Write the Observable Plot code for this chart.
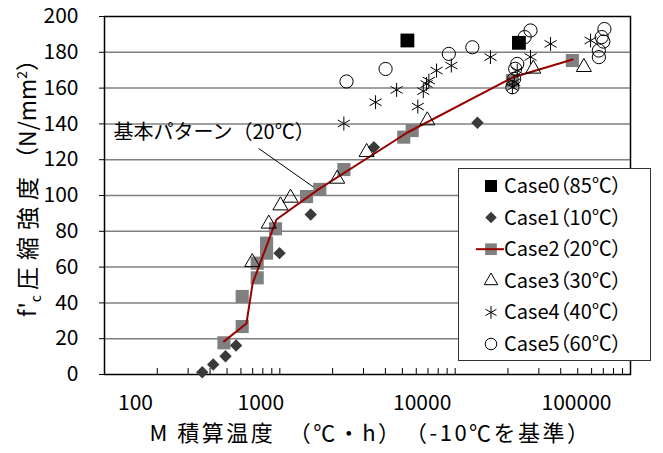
<!DOCTYPE html>
<html>
<head>
<meta charset="utf-8">
<script src="https://cdn.jsdelivr.net/npm/d3@7"></script>
<script src="https://cdn.jsdelivr.net/npm/@observablehq/plot@0.6"></script>
<style>
  body { margin: 0; background: #fff; }
  #chart { position: relative; width: 663px; height: 453px; font-family: "Noto Sans CJK JP", sans-serif; }
  #legend { position: absolute; left: 458px; top: 168px; width: 193px; height: 193px;
            background: #fff; border: 1px solid #333; box-sizing: border-box; }
</style>
</head>
<body>
<div id="chart"></div>
<script>
// Maturity M (°C·h, datum -10°C) and compressive strength f'c (N/mm²) per curing case
const case0X = [5340, 23100];
const case0Y = [186.6, 185.3];

const case1X = [361, 417, 490, 563, 996, 1500, 3440, 13400];
const case1Y = [1.3, 5.6, 10.2, 16.2, 67.8, 89.4, 127.0, 140.6];

const case2X = [480, 610, 610, 743, 743, 840, 840, 945, 1420, 1690, 2320, 5090, 5690, 21200, 46600];
const case2Y = [17.7, 26.8, 43.6, 54.0, 62.2, 67.8, 73.4, 81.4, 99.4, 103.4, 114.5, 132.6, 136.3, 164.2, 175.4];

// reference strength development line (基本パターン, 20°C)
const baseX = [480, 645, 700, 957, 1660, 5345, 21230, 46770];
const baseY = [18.5, 28.5, 51.0, 86.6, 103.4, 135.2, 165.9, 176.0];

const case3X = [696, 865, 1008, 1151, 2124, 3126, 6935, 27900, 54200];
const case3Y = [62.7, 84.2, 94.4, 98.7, 109.3, 124.2, 141.9, 170.8, 171.7];

const case4X = [2318, 3516, 4635, 6124, 6580, 6870, 7080, 7830, 9510, 15900, 21200, 21700, 22600, 26900, 35000, 59200];
const case4Y = [140.2, 152.1, 159.0, 149.7, 158.3, 162.3, 164.2, 169.8, 172.6, 177.3, 160.5, 163.3, 169.8, 177.4, 184.7, 186.6];

const case5X = [2400, 4010, 9200, 12530, 21200, 21700, 22000, 22600, 24900, 26900, 66000, 66000, 70000, 68500, 71000];
const case5Y = [163.7, 170.7, 179.1, 182.8, 160.5, 165.2, 170.8, 173.5, 188.5, 192.2, 177.3, 181.0, 186.0, 188.5, 193.0];

const seriesNames = ["Case0（85℃）", "Case1（10℃）", "Case2（20℃）", "Case3（30℃）", "Case4（40℃）", "Case5（60℃）"];

const yTicks = [0, 20, 40, 60, 80, 100, 120, 140, 160, 180, 200];
const xTickLabels = [100, 1000, 10000, 100000];

const xTitle = "M 積算温度　（℃・h）　（-10℃を基準）";
const yTitle = "f'c 圧縮強度 （N/mm2）";
const noteText = "基本パターン（20℃）";
const note = {x: 112.5, y: 135.2, x2: 1600, y2: 103.9, x1: 757, y1: 126.3};

const pts = (xs, ys) => xs.map((x, i) => ({x, y: ys[i]}));

const xMinor = d3.scaleLog().domain([100, 100000]).ticks();
const labelShift = [31, -19, -33, -54];

const marks = [
  Plot.ruleY(yTicks.slice(1, -1), {stroke: "#808080", strokeWidth: 1.5}),
  Plot.tickX(xMinor, {x: d => d, insetTop: 352, stroke: "#000"}),
  Plot.frame({stroke: "#000", strokeWidth: 1.5}),
  Plot.axisY({ticks: yTicks, tickSize: 5, tickPadding: 21, label: null, fontSize: 21}),
  ...xTickLabels.map((t, i) => Plot.axisX({ticks: [t], tickSize: 0, tickPadding: 21, dx: labelShift[i],
                                           tickFormat: d => String(d), label: null, fontSize: 21})),
  Plot.text([xTitle], {frameAnchor: "bottom", dy: 59, dx: 3, text: d => d, fontSize: 22,
                       textAnchor: "middle", lineAnchor: "middle"}),
  Plot.text([yTitle], {frameAnchor: "left", dx: -76, dy: -13, rotate: -90, text: d => d, fontSize: 23,
                       textAnchor: "middle", lineAnchor: "middle"}),
  Plot.text([note], {x: "x", y: "y", text: () => noteText, textAnchor: "start", fontSize: 20}),
  Plot.link([note], {x1: "x1", y1: "y1", x2: "x2", y2: "y2", stroke: "#000", strokeWidth: 1}),
  Plot.dot(pts(case0X, case0Y), {x: "x", y: "y", symbol: "square", r: 7.8, fill: "#000", stroke: "none"}),
  Plot.dot(pts(case1X, case1Y), {x: "x", y: "y", symbol: "diamond2", r: 5.6, fill: "#3a3a3a", stroke: "none"}),
  Plot.dot(pts(case2X, case2Y), {x: "x", y: "y", symbol: "square", r: 7.4, fill: "#808080", stroke: "none"}),
  Plot.line(pts(baseX, baseY), {x: "x", y: "y", stroke: "#990000", strokeWidth: 2}),
  Plot.dot(pts(case3X, case3Y), {x: "x", y: "y", symbol: "triangle", r: 5.6, fill: "none", stroke: "#000", strokeWidth: 1}),
  Plot.dot(pts(case4X, case4Y), {x: "x", y: "y", symbol: "asterisk", r: 6.6, stroke: "#000", strokeWidth: 1}),
  Plot.dot(pts(case5X, case5Y), {x: "x", y: "y", symbol: "circle", r: 6.6, fill: "none", stroke: "#000", strokeWidth: 1})
];

const chart = Plot.plot({
  width: 663, height: 453,
  marginLeft: 104, marginRight: 33, marginTop: 16, marginBottom: 79,
  style: {fontFamily: "'Noto Sans CJK JP', sans-serif", fontSize: "21px", color: "#000", background: "#fff"},
  x: {type: "log", domain: [100, 100000]},
  y: {domain: [0, 200]},
  marks
});
document.getElementById("chart").appendChild(chart);

d3.select(chart).selectAll("text").each(function() {
  if (this.textContent === yTitle) {
    // subscript c and superscript 2 in the vertical axis title
    const t = d3.select(this).text(null);
    t.append("tspan").text("f'");
    t.append("tspan").attr("font-size", 14).attr("dy", 5).text("c");
    t.append("tspan").attr("dy", -5).text(" ");
    t.append("tspan").style("letter-spacing", "7px").text("圧縮強度");
    t.append("tspan").text("（N/mm");
    t.append("tspan").attr("font-size", 14).attr("dy", -9).text("2");
    t.append("tspan").attr("dy", 9).text("）");
  } else if (this.textContent === xTitle) {
    d3.select(this).style("letter-spacing", "2.5px");
  }
});

// legend box
const legend = d3.select("#chart").append("div").attr("id", "legend");
const lsvg = legend.append("svg").attr("width", 193).attr("height", 193).style("display", "block");
const sym = (type, r) => d3.symbol(type, Math.PI * r * r)();
const styles = [
  {type: d3.symbolSquare, r: 6.8, fill: "#000", stroke: "none"},
  {type: d3.symbolDiamond2, r: 5.2, fill: "#3a3a3a", stroke: "none"},
  {type: d3.symbolSquare, r: 6.6, fill: "#808080", stroke: "none", line: true},
  {type: d3.symbolTriangle, r: 5.0, fill: "none", stroke: "#000"},
  {type: d3.symbolAsterisk, r: 6.0, fill: "none", stroke: "#000"},
  {type: d3.symbolCircle, r: 5.8, fill: "none", stroke: "#000"}
];
seriesNames.forEach((name, i) => {
  const s = styles[i];
  const g = lsvg.append("g").attr("transform", `translate(0,${17 + i * 31.6})`);
  g.append("path").attr("d", sym(s.type, s.r)).attr("transform", "translate(32,0)")
    .attr("fill", s.fill).attr("stroke", s.stroke);
  if (s.line) {
    g.append("line").attr("x1", 17).attr("x2", 45).attr("stroke", "#990000").attr("stroke-width", 2);
  }
  g.append("text").attr("x", 45).attr("dy", "0.35em").attr("font-size", 20)
    .style("font-family", "'Noto Sans CJK JP', sans-serif")
    .style("font-feature-settings", "'palt'")
    .text(name);
});
</script>
</body>
</html>
